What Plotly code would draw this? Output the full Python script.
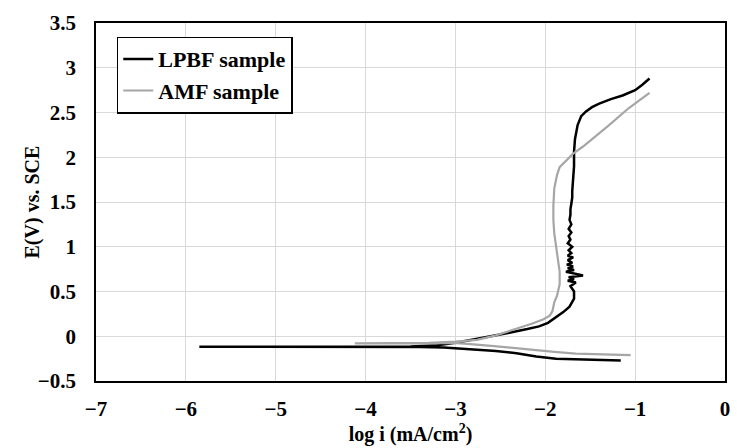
import plotly.graph_objects as go

# LPBF sample: cathodic branch (right -> left), Ecorr spike, anodic branch
lpbf_x = [-1.16, -1.40, -1.65, -1.88, -2.10, -2.32, -2.55, -2.76, -2.95, -3.13, -3.40, -4.0, -5.0, -5.85,
          -5.0, -4.0, -3.5, -3.2, -2.98, -2.70, -2.40, -2.20, -2.07, -1.97, -1.88, -1.80, -1.73, -1.68,
          -1.68, -1.72, -1.66, -1.75, -1.68, -1.74, -1.58, -1.63, -1.71, -1.77, -1.68, -1.75, -1.69,
          -1.76, -1.70, -1.75, -1.69, -1.75, -1.71, -1.74, -1.70, -1.75, -1.72, -1.74, -1.71, -1.74,
          -1.71, -1.73, -1.72, -1.72, -1.71, -1.70, -1.70, -1.69, -1.68, -1.68, -1.67, -1.64, -1.60,
          -1.55, -1.48, -1.40, -1.27, -1.14, -1.00, -0.92, -0.84]
lpbf_y = [-0.27, -0.265, -0.26, -0.25, -0.225, -0.19, -0.165, -0.15, -0.135, -0.125, -0.12, -0.118, -0.117, -0.116,
          -0.117, -0.118, -0.115, -0.10, -0.07, -0.02, 0.04, 0.08, 0.11, 0.15, 0.21, 0.27, 0.33, 0.42,
          0.50, 0.56, 0.60, 0.62, 0.64, 0.66, 0.68, 0.69, 0.70, 0.72, 0.74, 0.76, 0.78,
          0.80, 0.82, 0.85, 0.88, 0.90, 0.93, 0.96, 1.00, 1.04, 1.08, 1.12, 1.16, 1.20,
          1.25, 1.30, 1.36, 1.42, 1.48, 1.55, 1.62, 1.75, 1.90, 2.06, 2.20, 2.36, 2.46,
          2.51, 2.56, 2.60, 2.65, 2.69, 2.75, 2.81, 2.88]

# AMF sample
amf_x = [-1.05, -1.30, -1.66, -1.90, -2.13, -2.35, -2.57, -2.80, -3.02, -3.30, -3.70, -4.12,
         -3.70, -3.30, -3.00, -2.76, -2.55, -2.32, -2.15, -2.02, -1.95, -1.92, -1.90, -1.87, -1.84,
         -1.84, -1.86, -1.88, -1.90, -1.91, -1.91, -1.90, -1.87, -1.84, -1.77, -1.69, -1.58,
         -1.47, -1.29, -1.07, -0.95, -0.84]
amf_y = [-0.21, -0.205, -0.195, -0.175, -0.15, -0.13, -0.11, -0.09, -0.075, -0.08, -0.08, -0.08,
         -0.08, -0.075, -0.06, -0.04, 0.01, 0.08, 0.14, 0.19, 0.23, 0.28, 0.38, 0.45, 0.58,
         0.72, 0.86, 1.00, 1.15, 1.30, 1.46, 1.65, 1.80, 1.89, 1.96, 2.04, 2.12,
         2.21, 2.36, 2.55, 2.64, 2.72]

x_ticks = [-7, -6, -5, -4, -3, -2, -1, 0]
y_ticks = [-0.5, 0, 0.5, 1, 1.5, 2, 2.5, 3, 3.5]

font_name = "Liberation Serif"

fig = go.Figure()
fig.add_trace(go.Scatter(x=lpbf_x, y=lpbf_y, mode="lines", name="<b>LPBF sample</b>",
                         line=dict(color="black", width=2.5)))
fig.add_trace(go.Scatter(x=amf_x, y=amf_y, mode="lines", name="<b>AMF sample</b>",
                         line=dict(color="#a6a6a6", width=2.2)))

fig.update_xaxes(range=[-7, 0], tickvals=x_ticks, showgrid=True, gridcolor="#d9d9d9", gridwidth=1.2,
                 zeroline=False, showline=True, linecolor="black", linewidth=1.5, mirror=True,
                 ticklabelstandoff=8,
                 tickfont=dict(family=font_name, size=21, color="black", weight="bold"),
                 title=dict(text="<b>log i (mA/cm<sup>2</sup>)</b>", standoff=6,
                            font=dict(family=font_name, size=20, color="black")))
fig.update_yaxes(range=[-0.5, 3.5], tickvals=y_ticks, showgrid=True, gridcolor="#d9d9d9", gridwidth=1.2,
                 zeroline=False, showline=True, linecolor="black", linewidth=1.5, mirror=True,
                 ticklabelstandoff=14,
                 tickfont=dict(family=font_name, size=21, color="black", weight="bold"))

# y title as an annotation so it can sit close to the tick labels
fig.add_annotation(text="<b>E(V) vs. SCE</b>", textangle=-90, xref="paper", yref="paper",
                   x=-0.101, y=0.5, xanchor="center", yanchor="middle", showarrow=False,
                   font=dict(family=font_name, size=20, color="black"))

fig.update_layout(
    width=737, height=448,
    margin=dict(l=96, r=7, t=23, b=67),
    plot_bgcolor="white", paper_bgcolor="white",
    legend=dict(x=0.033, y=0.962, xanchor="left", yanchor="top",
                bordercolor="black", borderwidth=1.5, bgcolor="white",
                font=dict(family=font_name, size=22, color="black")),
)

# drop the default 8px page margin so the figure sits at the window origin
fig.write_html("out.html", config={"displayModeBar": False},
               post_script="document.body.style.margin='0';")
